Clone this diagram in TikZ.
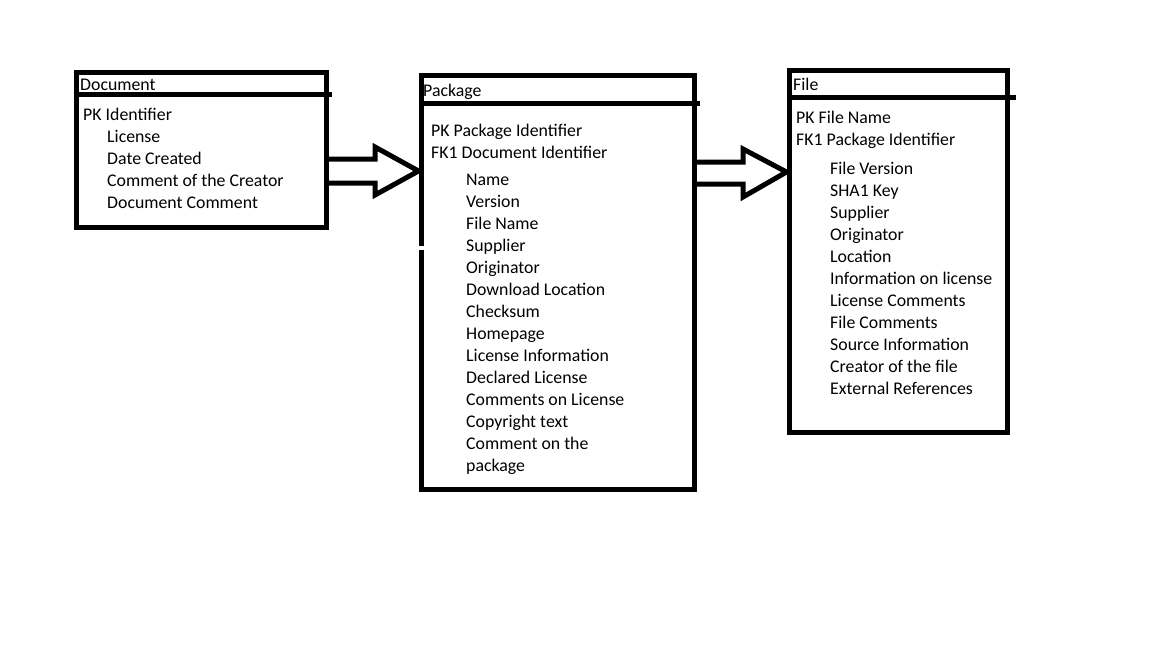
\documentclass[tikz,border=0pt]{standalone}
\usepackage{fontspec}
\setmainfont{Carlito}
\usetikzlibrary{calc,positioning}

\tikzset{
  entity/.style={draw, line width=5pt, inner sep=0pt, rectangle},
  sepline/.style={line width=5pt},
  blockarr/.style={line width=5pt, line join=miter},
  field/.style={anchor=base west, inner sep=0pt, font=\fontsize{17.8}{20}\selectfont}
}

\begin{document}
\begin{tikzpicture}[x=1pt,y=-1pt]
        \useasboundingbox (0,0) rectangle (1152,648);

        % the three tables
        \node[entity, minimum width=250pt, minimum height=155pt] (doc)  at (201,149.5) {};
        \node[entity, minimum width=273pt, minimum height=414pt] (pkg)  at (557.5,282) {};
        \node[entity, minimum width=218pt, minimum height=362pt] (file) at (898,251) {};
        \draw[white, line width=6pt] (421,246) -- (421,250);

        % header lines
        \draw[sepline] ($(doc.north west)+(0,25)$)  -- ($(doc.north east)+(3,25)$);
        \draw[sepline] ($(pkg.north west)+(0,31)$)  -- ($(pkg.north east)+(3,31)$);
        \draw[sepline] ($(file.north west)+(0,30)$) -- ($(file.north east)+(6,30)$);

        \node[field] (docTitle)  at (80,90)  {Document};
        \node[field] (pkgTitle)  at (423,96) {Package};
        \node[field] (fileTitle) at (793,90) {File};

        % Document
        \node[field] (docPK) at (83,120) {PK Identifier};
        \foreach \t [count=\i from 0] in {License, Date Created, Comment of the Creator, Document Comment}
          \node[field] (doc-\i) at (107,142+22*\i) {\t};

        % Package
        \node[field] (pkgPK)  at (431,136) {PK Package Identifier};
        \node[field] (pkgFK1) at (431,158) {FK1 Document Identifier};
        \foreach \t [count=\i from 0] in {Name, Version, File Name, Supplier, Originator,
            Download Location, Checksum, Homepage, License Information, Declared License,
            Comments on License, Copyright text, Comment on the, package}
          \node[field] (pkg-\i) at (466,185+22*\i) {\t};

        % File
        \node[field] (filePK)  at (796,123) {PK File Name};
        \node[field] (fileFK1) at (796,145) {FK1 Package Identifier};
        \foreach \t [count=\i from 0] in {File Version, SHA1 Key, Supplier, Originator, Location,
            Information on license, License Comments, File Comments, Source Information,
            Creator of the file, External References}
          \node[field] (file-\i) at (830,174+22*\i) {\t};

        % block arrows
        \draw[blockarr] (doc.east |- 0,159) -- (375,159) -- (375,147) -- (pkg.west |- 0,171)
          -- (375,195) -- (375,183) -- (doc.east |- 0,183);
        \draw[blockarr] (pkg.east |- 0,162) -- (743,162) -- (743,149) -- (file.west |- 0,172)
          -- (743,197) -- (743,184) -- (pkg.east |- 0,184);
\end{tikzpicture}
\end{document}
